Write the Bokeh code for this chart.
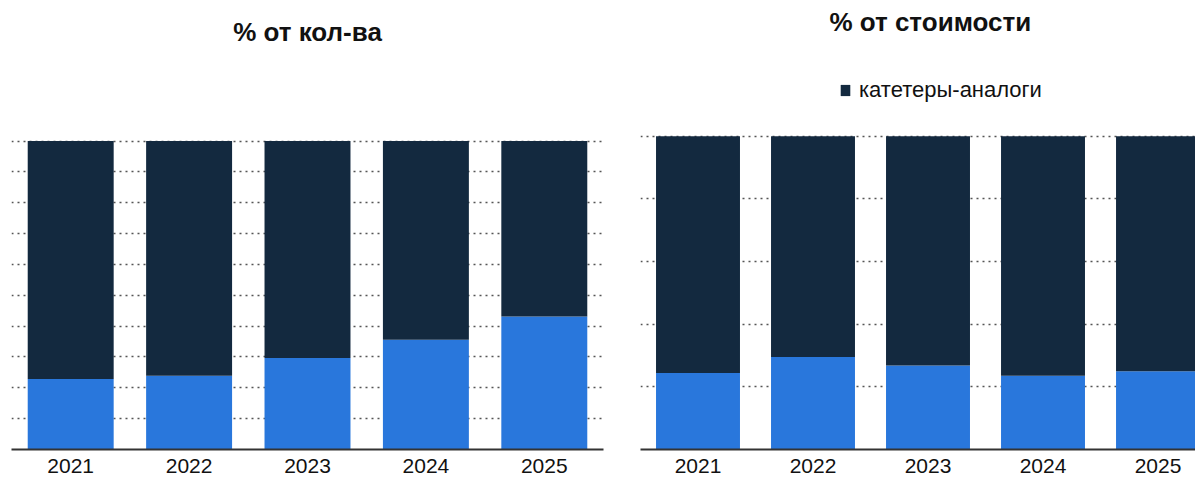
from bokeh.plotting import figure
from bokeh.models import Range1d, FixedTicker, Legend, LegendItem, Label
from bokeh.layouts import row
from bokeh.embed import file_html
from bokeh.resources import INLINE

years = ["2021", "2022", "2023", "2024", "2025"]

# left panel: % of quantity
qty_blue = [22.9, 23.9, 29.7, 35.6, 43.1]
qty_dark = [77.1, 76.1, 70.3, 64.4, 56.9]

# right panel: % of value
val_blue = [24.4, 29.5, 26.8, 23.5, 25.0]
val_dark = [75.6, 70.5, 73.2, 76.5, 75.0]

left_title = "% от кол-ва"
right_title = "% от стоимости"
dark_label = "катетеры-аналоги"

DARK = "#13293f"
BLUE = "#2977dc"
FONT = "Liberation Sans"

xs = list(range(len(years)))


def make(title, title_x, title_y, width, x_end, y_end, grid_step, b_bottom, b_left, b_right,
         blue, dark, bar_w):
    p = figure(title=None, width=width, height=484, output_backend="svg", toolbar_location=None,
               x_range=Range1d(-0.5, x_end), y_range=Range1d(0, y_end),
               min_border_top=0, min_border_bottom=b_bottom,
               min_border_left=b_left, min_border_right=b_right)
    p.outline_line_color = None
    p.background_fill_color = "white"
    p.border_fill_color = "white"
    rs = p.vbar_stack(["blue", "dark"], x="x", width=bar_w,
                      color=[BLUE, DARK], line_color=None,
                      source=dict(x=xs, blue=blue, dark=dark))
    p.yaxis.visible = False
    p.xgrid.visible = False
    p.ygrid.ticker = FixedTicker(ticks=list(range(0, 101, grid_step)))
    p.ygrid.grid_line_color = "#555555"
    p.ygrid.grid_line_dash = "2 4"
    p.ygrid.grid_line_width = 1.5
    ax = p.xaxis[0]
    ax.ticker = FixedTicker(ticks=xs)
    ax.major_label_overrides = {i: y for i, y in zip(xs, years)}
    ax.major_tick_out = 0
    ax.major_tick_in = 0
    ax.minor_tick_out = 0
    ax.minor_tick_in = 0
    ax.axis_line_color = "#333333"
    ax.axis_line_width = 2
    ax.major_label_standoff = 9
    ax.major_label_text_font = FONT
    ax.major_label_text_font_size = "21px"
    ax.major_label_text_color = "#111111"
    p.add_layout(Label(x=title_x, y=title_y, text=title, text_align="center",
                       text_baseline="middle", text_font=FONT, text_font_size="26px",
                       text_font_style="bold", text_color="#111111"))
    return p, rs


left, _ = make(left_title, 2.0, 135.3, 612, 4.5, 145.6, 10, 34, 11, 9,
               qty_blue, qty_dark, 0.726)

right, rs = make(right_title, 2.02, 136.3, 583, 4.326, 143.3, 20, 35, 28, 0,
                 val_blue, val_dark, 0.73)
legend = Legend(items=[LegendItem(label=dark_label, renderers=[rs[1]])],
                location=(199, 346), orientation="horizontal",
                label_text_font=FONT, label_text_font_size="22px", label_text_color="#111111",
                glyph_width=12, glyph_height=14, label_standoff=8, padding=0, margin=0,
                border_line_color=None, background_fill_alpha=0)
right.add_layout(legend)

page = row(left, right, spacing=0)
open("out.html", "w").write(file_html(page, INLINE))
